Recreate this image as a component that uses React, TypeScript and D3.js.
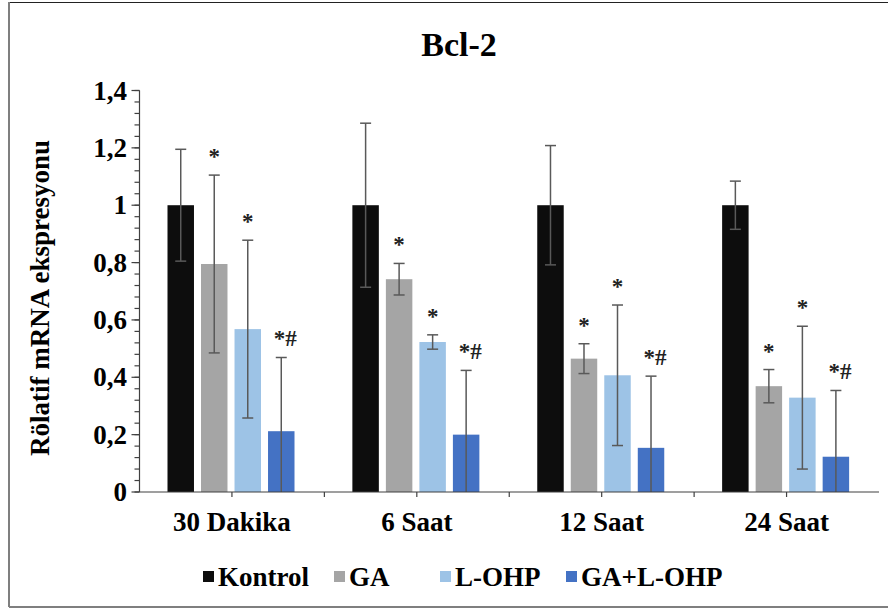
import React from "react";
import * as d3 from "d3";

// Bcl-2 relative mRNA expression per time point and treatment group
const groups = ["30 Dakika", "6 Saat", "12 Saat", "24 Saat"];
const seriesNames = ["Kontrol", "GA", "L-OHP", "GA+L-OHP"];
const seriesColors = ["#0d0d0d", "#a5a5a5", "#9dc3e6", "#4472c4"];

const kontrolValues = [1.0, 1.0, 1.0, 1.0];
const kontrolErrors = [0.195, 0.286, 0.208, 0.084];
const gaValues = [0.795, 0.742, 0.465, 0.369];
const gaErrors = [0.31, 0.055, 0.052, 0.058];
const lohpValues = [0.568, 0.523, 0.407, 0.329];
const lohpErrors = [0.31, 0.025, 0.245, 0.249];
const comboValues = [0.212, 0.2, 0.154, 0.123];
const comboErrors = [0.257, 0.224, 0.25, 0.231];

// significance marks shown above each error bar
const kontrolMarks = ["", "", "", ""];
const gaMarks = ["*", "*", "*", "*"];
const lohpMarks = ["*", "*", "*", "*"];
const comboMarks = ["*#", "*#", "*#", "*#"];

const yTickValues = [0, 0.2, 0.4, 0.6, 0.8, 1.0, 1.2, 1.4];

const series = [
  { values: kontrolValues, errors: kontrolErrors, marks: kontrolMarks },
  { values: gaValues, errors: gaErrors, marks: gaMarks },
  { values: lohpValues, errors: lohpErrors, marks: lohpMarks },
  { values: comboValues, errors: comboErrors, marks: comboMarks },
];

const W = 888;
const H = 610;
const FONT = '"Liberation Serif", Tinos, "Times New Roman", "DejaVu Serif", serif';

const plot = { left: 139.5, right: 879, top: 90.5, bottom: 492 };

const textStyle: React.CSSProperties = { fontFamily: FONT, fontWeight: 700 };

export default function App() {
  const x0 = d3
    .scaleBand<string>()
    .domain(groups)
    .range([plot.left, plot.right])
    .paddingInner(0)
    .paddingOuter(0);
  const gw = x0.bandwidth();
  const x1 = d3
    .scaleBand<string>()
    .domain(seriesNames)
    .range([28, 155])
    .paddingInner(0.21)
    .paddingOuter(0);
  const y = d3.scaleLinear().domain([0, 1.4]).range([plot.bottom, plot.top]);

  const fmt = (v: number) => d3.format("~g")(+v.toFixed(2)).replace(".", ",");
  const minorTicks = d3.range(0, 1.4 + 1e-9, 0.04);

  const xTickPositions: number[] = [];
  groups.forEach((g, i) => {
    const s = x0(g)!;
    if (i > 0) xTickPositions.push(s);
    xTickPositions.push(s + gw / 2);
  });

  const legendItems = [
    { sq: 203, tx: 218 },
    { sq: 334, tx: 349 },
    { sq: 440, tx: 455 },
    { sq: 566, tx: 581 },
  ];

  return (
    <svg
      width={W}
      height={H}
      style={{ position: "absolute", left: 0, top: 0, background: "#fff", fontFamily: FONT }}
    >
      <rect x={0} y={0} width={W} height={H} fill="#fff" />
      {/* outer frame */}
      <line x1={9} x2={W} y1={2.5} y2={2.5} stroke="#222" strokeWidth={1.2} />
      <line x1={9} x2={9} y1={2} y2={607} stroke="#7f7f7f" strokeWidth={2} />
      <line x1={9} x2={W} y1={607} y2={607} stroke="#7f7f7f" strokeWidth={2} />

      {/* title */}
      <text x={459} y={56} textAnchor="middle" fontSize={34} style={textStyle} fill="#000">
        Bcl-2
      </text>

      {/* y axis title */}
      <text
        transform={`translate(49,${(138 + 458) / 2}) rotate(-90)`}
        textAnchor="middle"
        fontSize={27}
        style={textStyle}
        fill="#000"
      >
        Rölatif mRNA ekspresyonu
      </text>

      {/* bars */}
      {series.map((s, si) =>
        groups.map((g, gi) => {
          const bx = x0(g)! + x1(seriesNames[si])!;
          const bw = x1.bandwidth();
          const v = s.values[gi];
          return (
            <rect
              key={`b-${si}-${gi}`}
              x={bx}
              y={y(v)}
              width={bw}
              height={y(0) - y(v)}
              fill={seriesColors[si]}
            />
          );
        })
      )}

      {/* error bars and marks */}
      {series.map((s, si) =>
        groups.map((g, gi) => {
          const cx = x0(g)! + x1(seriesNames[si])! + x1.bandwidth() / 2;
          const v = s.values[gi];
          const e = s.errors[gi];
          const hi = v + e;
          const lo = Math.max(0, v - e);
          const mark = s.marks[gi];
          return (
            <g key={`e-${si}-${gi}`} stroke="#595959" strokeWidth={1.5}>
              <line x1={cx} x2={cx} y1={y(hi)} y2={y(lo)} />
              <line x1={cx - 5.5} x2={cx + 5.5} y1={y(hi)} y2={y(hi)} />
              {v - e > 0 && (
                <line x1={cx - 5.5} x2={cx + 5.5} y1={y(lo)} y2={y(lo)} />
              )}
              {mark && (
                <text
                  x={cx + (mark.length > 1 ? 4 : 0)}
                  y={y(hi) - 11}
                  textAnchor="middle"
                  fontSize={23}
                  style={textStyle}
                  fill="#222"
                  stroke="none"
                >
                  {mark}
                </text>
              )}
            </g>
          );
        })
      )}

      {/* y axis */}
      <g stroke="#404040" strokeWidth={1.2}>
        <line x1={plot.left} x2={plot.left} y1={plot.top} y2={plot.bottom} />
        {minorTicks.map((t, i) => (
          <line key={`m${i}`} x1={plot.left - 5} x2={plot.left} y1={y(t)} y2={y(t)} />
        ))}
        {yTickValues.map((t, i) => (
          <line key={`M${i}`} x1={plot.left - 8} x2={plot.left} y1={y(t)} y2={y(t)} />
        ))}
      </g>
      {yTickValues.map((t, i) => (
        <text
          key={`yl${i}`}
          x={127}
          y={y(t) + 9}
          textAnchor="end"
          fontSize={27}
          style={textStyle}
          fill="#000"
        >
          {fmt(t)}
        </text>
      ))}

      {/* x axis */}
      <g stroke="#404040" strokeWidth={1.2}>
        <line x1={plot.left} x2={plot.right} y1={plot.bottom} y2={plot.bottom} />
        {xTickPositions.map((p, i) => (
          <line key={`xt${i}`} x1={p} x2={p} y1={plot.bottom} y2={plot.bottom + 5} />
        ))}
      </g>
      {groups.map((g) => (
        <text
          key={`xl-${g}`}
          x={x0(g)! + gw / 2}
          y={531}
          textAnchor="middle"
          fontSize={27}
          style={textStyle}
          fill="#000"
        >
          {g}
        </text>
      ))}

      {/* legend */}
      {seriesNames.map((n, i) => (
        <g key={`lg-${n}`}>
          <rect x={legendItems[i].sq} y={571} width={11} height={11} fill={seriesColors[i]} />
          <text x={legendItems[i].tx} y={586} fontSize={27} style={textStyle} fill="#000">
            {n}
          </text>
        </g>
      ))}
    </svg>
  );
}
